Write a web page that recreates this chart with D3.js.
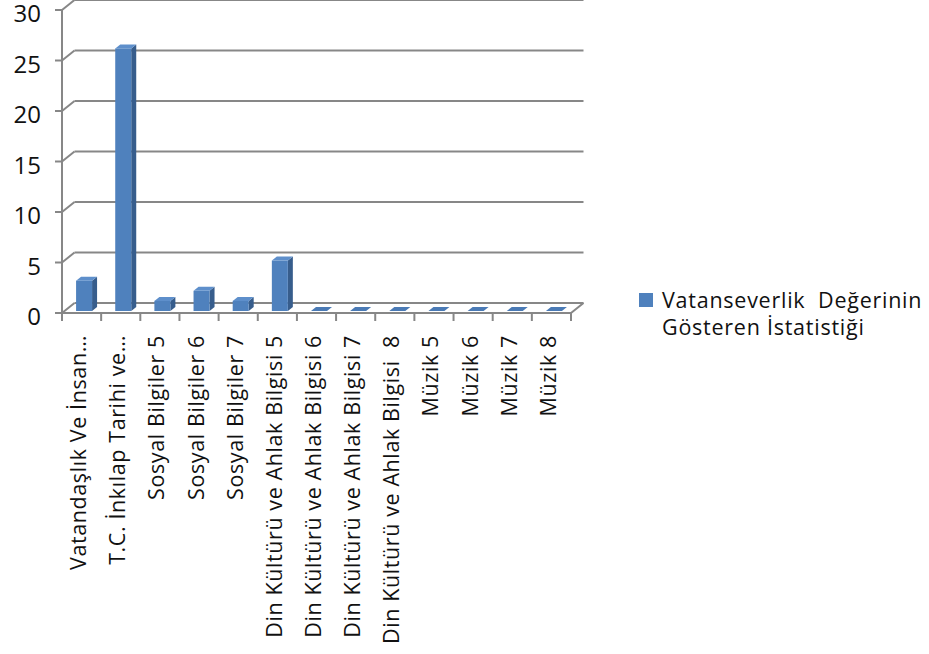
<!DOCTYPE html>
<html><head><meta charset="utf-8">
<script src="https://cdn.jsdelivr.net/npm/d3@7"></script>
<style>body{margin:0;background:#fff}svg{display:block}text{font-family:"Open Sans",sans-serif;fill:#111}</style>
</head><body>
<svg id="c" width="929" height="654"></svg>
<script>
const categories = ["Vatandaşlık Ve İnsan…","T.C. İnkılap Tarihi ve…","Sosyal Bilgiler 5","Sosyal Bilgiler 6","Sosyal Bilgiler 7","Din Kültürü ve Ahlak Bilgisi 5","Din Kültürü ve Ahlak Bilgisi 6","Din Kültürü ve Ahlak Bilgisi 7","Din Kültürü ve Ahlak Bilgisi  8","Müzik 5","Müzik 6","Müzik 7","Müzik 8"];
const values = [3,26,1,2,1,5,0,0,0,0,0,0,0];
const yTicks = [0,5,10,15,20,25,30];
const seriesName = ["Vatanseverlik  Değerinin","Gösteren İstatistiği"];

(function(){
const svg = d3.select("#c");
const pLeft = 62, pRight = 571, pBottom = 313, pTop = 10;
const DX = 12.5, DY = -10; // depth of the 3D floor
const x = d3.scaleBand().domain(categories).range([pLeft, pRight]).paddingInner(0).paddingOuter(0);
const y = d3.scaleLinear().domain([0,30]).range([pBottom, pTop]);
const grid = "#878787";

yTicks.forEach(t => {
  svg.append("line").attr("x1", pLeft+DX).attr("x2", pRight+DX)
    .attr("y1", y(t)+DY).attr("y2", y(t)+DY)
    .attr("stroke", grid).attr("stroke-width", 2);
  svg.append("line").attr("x1", pLeft).attr("x2", pLeft+DX)
    .attr("y1", y(t)).attr("y2", y(t)+DY)
    .attr("stroke", grid).attr("stroke-width", 2);
  svg.append("line").attr("x1", pLeft-7).attr("x2", pLeft)
    .attr("y1", y(t)).attr("y2", y(t))
    .attr("stroke", grid).attr("stroke-width", 2);
  svg.append("text").attr("x", 41).attr("y", y(t)).attr("dy","0.5em")
    .attr("text-anchor","end").style("font-size","24px").text(t);
});
svg.append("line").attr("x1", pLeft).attr("x2", pLeft).attr("y1", y(30)).attr("y2", pBottom)
  .attr("stroke", grid).attr("stroke-width", 2);
svg.append("line").attr("x1", pLeft).attr("x2", pRight).attr("y1", pBottom).attr("y2", pBottom)
  .attr("stroke", grid).attr("stroke-width", 2);
svg.append("line").attr("x1", pRight).attr("x2", pRight+DX).attr("y1", pBottom).attr("y2", pBottom+DY)
  .attr("stroke", grid).attr("stroke-width", 2);
const bounds = categories.map(c => x(c)).concat([pRight]);
bounds.forEach(b => {
  svg.append("line").attr("x1", b).attr("x2", b).attr("y1", pBottom).attr("y2", pBottom+8)
    .attr("stroke", grid).attr("stroke-width", 2);
});

const f1 = 0.2, f2 = 0.6;
const bw = 16;
const g = svg.append("g");
categories.forEach((c, i) => {
  const v = values[i];
  const cx = x(c) + x.bandwidth()/2;
  const x0 = cx - bw/2 + DX*f1, x1 = x0 + bw;
  const yb = pBottom + DY*f1, yt = y(v) + DY*f1;
  const ddx = DX*(f2-f1), ddy = DY*(f2-f1);
  if (v > 0) {
    g.append("path").attr("d", `M${x1},${yb}L${x1+ddx},${yb+ddy}L${x1+ddx},${yt+ddy}L${x1},${yt}Z`).attr("fill","#375D8C");
    g.append("rect").attr("x", x0).attr("y", yt).attr("width", bw).attr("height", yb-yt).attr("fill","#4F81BD");
  }
  g.append("path").attr("d", `M${x0},${yt}L${x1},${yt}L${x1+ddx},${yt+ddy}L${x0+ddx},${yt+ddy}Z`).attr("fill", v>0 ? "#5E8FCB" : "#4A7AB5");
  svg.append("text").attr("transform", `translate(${cx+4.5},335) rotate(-90)`)
    .attr("text-anchor","end").style("font-size","21.5px").style("letter-spacing","0.6px")
    .style("white-space","pre").text(c);
});

svg.append("rect").attr("x", 639).attr("y", 293).attr("width", 14).attr("height", 14).attr("fill","#4F81BD");
svg.append("text").attr("x", 662).attr("y", 308).style("font-size","21.5px").style("letter-spacing","0.75px").style("white-space","pre").text(seriesName[0]);
svg.append("text").attr("x", 662).attr("y", 335).style("font-size","21.5px").style("letter-spacing","0.75px").text(seriesName[1]);
})();
</script>
</body></html>
